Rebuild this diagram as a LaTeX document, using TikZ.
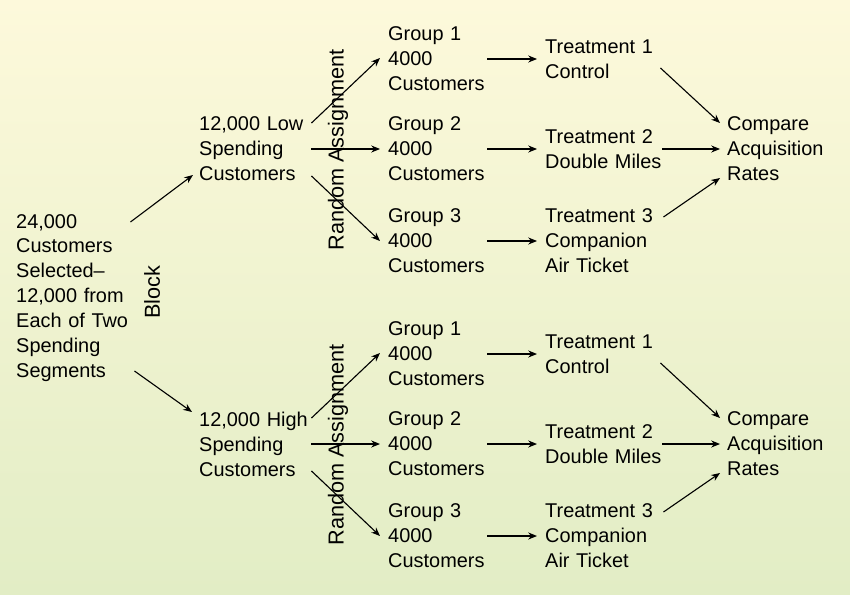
\documentclass[tikz,border=0pt]{standalone}
\usepackage{fontspec}
\setmainfont{Liberation Sans}
\usetikzlibrary{arrows.meta}
\definecolor{bgtop}{RGB}{253,249,219}
\definecolor{bgbot}{RGB}{226,237,197}
\tikzset{
  txt/.style={anchor=west, align=left, inner sep=0pt, font=\fontsize{17}{21.3}\selectfont},
  side/.style={rotate=90, inner sep=0pt, font=\fontsize{18.5}{20}\selectfont},
  arr/.style={-{Stealth[length=7.5pt,width=6pt]}, line width=0.95pt}
}

\begin{document}
\begin{tikzpicture}[x=0.03cm, y=-0.03cm]
% background
\shade[top color=bgtop, bottom color=bgbot] (0,0) rectangle (850,594);
\useasboundingbox (0,0) rectangle (850,594);

\node[txt, text width=3.45cm] (src) at (16,298) {24,000\\Customers\\Selected--\\12,000 from\\Each of Two\\Spending\\Segments};
\node[side] (blk) at (152,292) {Block};

% the two spending segments
\foreach \p/\dy/\lab/\ax/\ay/\bx/\by in {up/0/Low/-1/-76/-6/26, dn/295/High/3/73/-7/-32}{
  \node[txt, text width=3.36cm] (\p-seg) at (199,149+\dy) {12,000 \lab\\Spending\\Customers};
  \draw[arr] ([shift={(\ax,\ay)}]src.east) -- ([shift={(\bx,\by)}]\p-seg.west);
  \node[side] (\p-ra) at (338,150+\dy) {Random Assignment};

  % groups
  \node[txt, text width=2.97cm] (\p-g1) at (388,59+\dy) {Group 1\\4000\\Customers};
  \node[txt, text width=2.97cm] (\p-g2) at (388,149+\dy) {Group 2\\4000\\Customers};
  \node[txt, text width=2.97cm] (\p-g3) at (388,241+\dy) {Group 3\\4000\\Customers};
  \draw[arr] ([shift={(0,-26)}]\p-seg.east) -- ([shift={(-8,-1)}]\p-g1.west);
  \draw[arr] (\p-seg.east) -- ([shift={(-8,0)}]\p-g2.west);
  \draw[arr] ([shift={(0,27)}]\p-seg.east) -- ([shift={(-8,0)}]\p-g3.west);

  % treatments
  \node[txt, text width=3.51cm] (\p-t1) at (545,59+\dy) {Treatment 1\\Control};
  \node[txt, text width=3.51cm] (\p-t2) at (545,149+\dy) {Treatment 2\\Double Miles};
  \node[txt, text width=3.51cm] (\p-t3) at (545,241+\dy) {Treatment 3\\Companion\\Air Ticket};
  \draw[arr] (\p-g1.east) -- ([shift={(-8,0)}]\p-t1.west);
  \draw[arr] (\p-g2.east) -- ([shift={(-8,0)}]\p-t2.west);
  \draw[arr] (\p-g3.east) -- ([shift={(-8,0)}]\p-t3.west);

  % compare
  \node[txt, text width=3.45cm] (\p-cmp) at (727,149+\dy) {Compare\\Acquisition\\Rates};
  \draw[arr] ([shift={(-2,9)}]\p-t1.east) -- ([shift={(-7,-26)}]\p-cmp.west);
  \draw[arr] (\p-t2.east) -- ([shift={(-7,0)}]\p-cmp.west);
  \draw[arr] ([shift={(1,-24)}]\p-t3.east) -- ([shift={(-7,29)}]\p-cmp.west);
}

\end{tikzpicture}
\end{document}
